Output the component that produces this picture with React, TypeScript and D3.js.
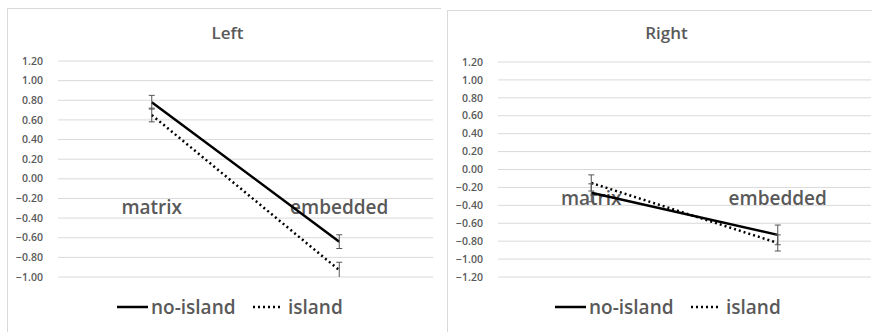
import React from "react";
import * as d3 from "d3";

const categories = ["matrix", "embedded"];
const seriesNames = ["no-island", "island"];

const leftTitle = "Left";
const leftNoIsland = [0.78, -0.64];
const leftNoIslandErr = [0.07, 0.07];
const leftIsland = [0.65, -0.93];
const leftIslandErr = [0.07, 0.08];
const leftTicks = [1.2, 1.0, 0.8, 0.6, 0.4, 0.2, 0.0, -0.2, -0.4, -0.6, -0.8, -1.0];

const rightTitle = "Right";
const rightNoIsland = [-0.26, -0.73];
const rightNoIslandErr = [0.1, 0.11];
const rightIsland = [-0.15, -0.82];
const rightIslandErr = [0.09, 0.09];
const rightTicks = [1.2, 1.0, 0.8, 0.6, 0.4, 0.2, 0.0, -0.2, -0.4, -0.6, -0.8, -1.0, -1.2];

const FONT = "'Open Sans', Lato, sans-serif";
const TEXT = "#595959";

type PanelProps = {
  ox: number;
  title: string;
  ticks: number[];
  domain: [number, number];
  yRange: [number, number];
  xRange: [number, number];
  noIsland: number[];
  noIslandErr: number[];
  island: number[];
  islandErr: number[];
  legendX: number;
};

function Panel(p: PanelProps) {
  const x = d3.scaleBand<string>().domain(categories).range(p.xRange);
  const y = d3.scaleLinear().domain(p.domain).range(p.yRange);
  const cx = (c: string) => (x(c) as number) + x.bandwidth() / 2;
  const line = d3
    .line<number>()
    .x((_, i) => cx(categories[i]))
    .y((v) => y(v));
  const fmt = d3.format(".2f");
  const [lo, hi] = p.domain;
  const clamp = (v: number) => Math.max(lo, Math.min(hi, v));
  const errBars = (vals: number[], errs: number[], key: string) =>
    vals.map((v, i) => {
      const px = cx(categories[i]);
      const top = v + errs[i];
      const bot = v - errs[i];
      return (
        <g key={key + i} stroke="#555" strokeWidth={1}>
          <line x1={px} x2={px} y1={y(clamp(top))} y2={y(clamp(bot))} />
          {top <= hi && <line x1={px - 3} x2={px + 3} y1={y(top)} y2={y(top)} />}
          {bot >= lo && <line x1={px - 3} x2={px + 3} y1={y(bot)} y2={y(bot)} />}
        </g>
      );
    });
  const legY = 307;
  const lx = p.legendX;
  return (
    <g transform={`translate(${p.ox},0)`}>
      <text x={(p.xRange[0] + p.xRange[1]) / 2 - 18} y={39} textAnchor="middle" fontFamily={FONT} fontWeight={600} fontSize={17} fill={TEXT}>
        {p.title}
      </text>
      {p.ticks.map((t) => (
        <g key={t}>
          <line x1={p.xRange[0]} x2={p.xRange[1]} y1={y(t)} y2={y(t)} stroke="#d9d9d9" strokeWidth={1} />
          <text x={p.xRange[0] - 15} y={y(t)} dy="0.35em" textAnchor="end" fontFamily={FONT} fontWeight={600} fontSize={10.5} fill={TEXT}>
            {fmt(t)}
          </text>
        </g>
      ))}
      {categories.map((c) => (
        <text key={c} x={cx(c)} y={y(0) + 29} dy="0.35em" textAnchor="middle" fontFamily={FONT} fontWeight={600} fontSize={19} fill={TEXT}>
          {c}
        </text>
      ))}
      <path d={line(p.noIsland) as string} fill="none" stroke="#000" strokeWidth={2.5} />
      <path d={line(p.island) as string} fill="none" stroke="#000" strokeWidth={2.5} strokeDasharray="2 3" />
      {errBars(p.noIsland, p.noIslandErr, "n")}
      {errBars(p.island, p.islandErr, "i")}
      <line x1={lx} x2={lx + 31} y1={legY} y2={legY} stroke="#000" strokeWidth={2.5} />
      <text x={lx + 34} y={legY} dy="0.35em" fontFamily={FONT} fontWeight={600} fontSize={19} fill={TEXT}>
        {seriesNames[0]}
      </text>
      <line x1={lx + 136} x2={lx + 166} y1={legY} y2={legY} stroke="#000" strokeWidth={2.5} strokeDasharray="2 3" />
      <text x={lx + 171} y={legY} dy="0.35em" fontFamily={FONT} fontWeight={600} fontSize={19} fill={TEXT}>
        {seriesNames[1]}
      </text>
    </g>
  );
}

export default function App() {
  return (
    <svg width={872} height={332} style={{ position: "absolute", left: 0, top: 0, background: "#fff" }}>
      <rect x={0} y={0} width={872} height={332} fill="#fff" />
      <path d="M7.5,332 V8.5 H441" fill="none" stroke="#d9d9d9" strokeWidth={1} />
      <path d="M447.5,332 V10.5 H872" fill="none" stroke="#d9d9d9" strokeWidth={1} />
      <Panel
        ox={0}
        title={leftTitle}
        ticks={leftTicks}
        domain={[-1.0, 1.2]}
        yRange={[277, 61]}
        xRange={[58, 433]}
        noIsland={leftNoIsland}
        noIslandErr={leftNoIslandErr}
        island={leftIsland}
        islandErr={leftIslandErr}
        legendX={117}
      />
      <Panel
        ox={0}
        title={rightTitle}
        ticks={rightTicks}
        domain={[-1.2, 1.2]}
        yRange={[277, 62]}
        xRange={[498, 871]}
        noIsland={rightNoIsland}
        noIslandErr={rightNoIslandErr}
        island={rightIsland}
        islandErr={rightIslandErr}
        legendX={555}
      />
    </svg>
  );
}
